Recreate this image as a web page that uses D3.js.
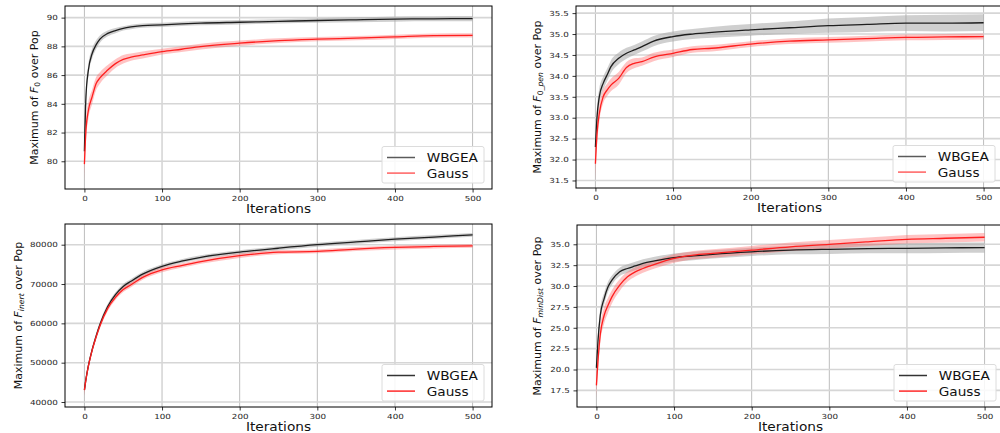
<!DOCTYPE html>
<html>
<head>
<meta charset="utf-8">
<script src="https://cdn.jsdelivr.net/npm/d3@7"></script>
<style>
  body { margin: 0; background: #fff; }
  svg { display: block; font-family: "DejaVu Sans", sans-serif; }
</style>
</head>
<body>
<div id="chart"></div>
<script>
"use strict";

// shared x values (iterations) and labels
const iterations = [0, 2, 5, 10, 15, 20, 30, 40, 50, 60, 75, 100, 125, 150, 200, 250, 300, 350, 400, 450, 500];
const xTicks = [0, 100, 200, 300, 400, 500];
const seriesNames = ["WBGEA", "Gauss"];

// F_0
const f0Wbgea       = [80.7, 84.5, 86.3, 87.5, 88.1, 88.5, 88.9, 89.1, 89.25, 89.35, 89.45, 89.5, 89.57, 89.62, 89.68, 89.74, 89.8, 89.85, 89.9, 89.92, 89.93];
const f0WbgeaSpread = [0.6, 0.5, 0.4, 0.35, 0.3, 0.25, 0.2, 0.18, 0.15, 0.15, 0.15, 0.15, 0.15, 0.15, 0.15, 0.15, 0.16, 0.17, 0.18, 0.18, 0.18];
const f0Gauss       = [79.8, 82.2, 83.5, 84.5, 85.4, 85.8, 86.35, 86.8, 87.1, 87.25, 87.4, 87.63, 87.8, 87.98, 88.22, 88.4, 88.5, 88.57, 88.66, 88.75, 88.77];
const f0GaussSpread = [1.2, 0.8, 0.6, 0.5, 0.45, 0.4, 0.35, 0.3, 0.3, 0.25, 0.25, 0.2, 0.2, 0.2, 0.18, 0.16, 0.15, 0.15, 0.15, 0.15, 0.15];
const f0Ticks = [80, 82, 84, 86, 88, 90];

// F_0_pen
const penWbgea       = [32.3, 33.0, 33.5, 33.82, 34.02, 34.22, 34.42, 34.54, 34.62, 34.7, 34.83, 34.94, 35.0, 35.04, 35.1, 35.15, 35.2, 35.23, 35.26, 35.26, 35.27];
const penWbgeaSpread = [0.3, 0.25, 0.2, 0.16, 0.15, 0.15, 0.14, 0.13, 0.12, 0.12, 0.12, 0.12, 0.12, 0.13, 0.14, 0.15, 0.17, 0.18, 0.19, 0.2, 0.2];
const penGauss       = [31.9, 32.6, 33.1, 33.5, 33.66, 33.78, 33.94, 34.2, 34.3, 34.34, 34.45, 34.54, 34.63, 34.66, 34.76, 34.83, 34.86, 34.89, 34.92, 34.93, 34.94];
const penGaussSpread = [0.4, 0.3, 0.2, 0.16, 0.15, 0.15, 0.15, 0.13, 0.12, 0.1, 0.1, 0.09, 0.08, 0.08, 0.07, 0.07, 0.07, 0.07, 0.07, 0.07, 0.07];
const penTicks = [31.5, 32.0, 32.5, 33.0, 33.5, 34.0, 34.5, 35.0, 35.5];

// F_inert
const inertWbgea       = [43100, 45800, 49100, 53300, 56700, 59700, 64300, 67300, 69400, 70700, 72500, 74500, 75800, 76800, 78100, 79100, 80000, 80700, 81400, 81950, 82500];
const inertWbgeaSpread = [1500, 1000, 800, 700, 700, 700, 650, 600, 600, 600, 550, 500, 500, 500, 500, 500, 500, 500, 500, 500, 500];
const inertGauss       = [43000, 45700, 49000, 53200, 56500, 59400, 63800, 66600, 68600, 69800, 71700, 73600, 74700, 75700, 77200, 78100, 78300, 78900, 79300, 79550, 79700];
const inertGaussSpread = [1500, 1000, 800, 700, 700, 700, 700, 650, 650, 600, 600, 600, 550, 550, 550, 500, 500, 500, 500, 500, 500];
const inertTicks = [40000, 50000, 60000, 70000, 80000];

// F_minDist
const minWbgea       = [20.2, 23.4, 26.5, 28.5, 29.9, 30.7, 31.7, 32.1, 32.4, 32.7, 33.0, 33.4, 33.6, 33.8, 34.1, 34.3, 34.4, 34.47, 34.52, 34.57, 34.6];
const minWbgeaSpread = [1.0, 0.9, 0.8, 0.7, 0.6, 0.55, 0.5, 0.5, 0.5, 0.5, 0.5, 0.5, 0.5, 0.5, 0.5, 0.5, 0.55, 0.55, 0.6, 0.6, 0.6];
const minGauss       = [18.1, 21.0, 24.2, 26.5, 27.7, 28.7, 30.1, 31.1, 31.7, 32.1, 32.6, 33.3, 33.7, 33.9, 34.3, 34.7, 35.0, 35.3, 35.6, 35.72, 35.84];
const minGaussSpread = [1.5, 1.2, 1.0, 1.0, 0.9, 0.8, 0.7, 0.6, 0.55, 0.5, 0.5, 0.5, 0.5, 0.5, 0.5, 0.5, 0.5, 0.5, 0.5, 0.5, 0.5];
const minTicks = [17.5, 20.0, 22.5, 25.0, 27.5, 30.0, 32.5, 35.0];

const panels = [
    {
        box: {left: 65, top: 6, right: 492, bottom: 189},
        yDomain: [78.07, 90.81], yTicks: f0Ticks, fmt: d3.format("d"),
        sub: [{t: "0", it: false}], labelX: 34, xLabelY: 213,
        means: [f0Wbgea, f0Gauss], spreads: [f0WbgeaSpread, f0GaussSpread], legendDark: false
    },
    {
        box: {left: 576, top: 6, right: 1003, bottom: 188},
        yDomain: [31.32, 35.67], yTicks: penTicks, fmt: d3.format(".1f"),
        sub: [{t: "0", it: false}, {t: "_pen", it: true}], labelX: 537, xLabelY: 212,
        means: [penWbgea, penGauss], spreads: [penWbgeaSpread, penGaussSpread], legendDark: false
    },
    {
        box: {left: 65, top: 224, right: 492, bottom: 407},
        yDomain: [38729, 85264], yTicks: inertTicks, fmt: d3.format("d"),
        sub: [{t: "inert", it: true}], labelX: 18, xLabelY: 431,
        means: [inertWbgea, inertGauss], spreads: [inertWbgeaSpread, inertGaussSpread], legendDark: true
    },
    {
        box: {left: 577, top: 225, right: 1004, bottom: 407},
        yDomain: [15.51, 37.31], yTicks: minTicks, fmt: d3.format(".1f"),
        sub: [{t: "minDist", it: true}], labelX: 537, xLabelY: 431,
        means: [minWbgea, minGauss], spreads: [minWbgeaSpread, minGaussSpread], legendDark: true
    }
];

const lineColors = ["#1e1e1e", "#ff1f1f"];
const bandColors = ["#a8a8a8", "#ff6a6a"];
const bandOpacity = [0.55, 0.4];

const svg = d3.select("#chart").append("svg")
              .attr("width", 1000)
              .attr("height", 433);

const defs = svg.append("defs");

panels.forEach((p, pi) => {
    const b = p.box;
    const w = b.right - b.left;
    const h = b.bottom - b.top;
    const xScale = d3.scaleLinear().domain([-25, 525]).range([0, w]);
    const yScale = d3.scaleLinear().domain(p.yDomain).range([h, 0]);

    defs.append("clipPath").attr("id", `clip${pi}`)
        .append("rect").attr("width", w).attr("height", h);

    const g = svg.append("g").attr("transform", `translate(${b.left},${b.top})`);

    // grid
    g.append("g").selectAll("line").data(xTicks).enter().append("line")
     .attr("x1", d => xScale(d)).attr("x2", d => xScale(d))
     .attr("y1", 0).attr("y2", h)
     .attr("stroke", "#bdbdbd").attr("stroke-width", 1);
    g.append("g").selectAll("line").data(p.yTicks).enter().append("line")
     .attr("x1", 0).attr("x2", w)
     .attr("y1", d => yScale(d)).attr("y2", d => yScale(d))
     .attr("stroke", "#d6d6d6").attr("stroke-width", 1.6);

    // bands and lines
    const plot = g.append("g").attr("clip-path", `url(#clip${pi})`);
    p.means.forEach((m, si) => {
        const rows = iterations.map((it, k) => ({x: it, y: m[k], s: p.spreads[si][k]}));
        const area = d3.area()
                       .x(d => xScale(d.x))
                       .y0(d => yScale(d.y - d.s))
                       .y1(d => yScale(d.y + d.s))
                       .curve(d3.curveMonotoneX);
        plot.append("path").datum(rows)
            .attr("d", area)
            .attr("fill", bandColors[si])
            .attr("fill-opacity", bandOpacity[si]);
    });
    p.means.forEach((m, si) => {
        const rows = iterations.map((it, k) => ({x: it, y: m[k]}));
        const line = d3.line()
                       .x(d => xScale(d.x))
                       .y(d => yScale(d.y))
                       .curve(d3.curveMonotoneX);
        plot.append("path").datum(rows)
            .attr("d", line)
            .attr("fill", "none")
            .attr("stroke", lineColors[si])
            .attr("stroke-width", 1.3);
    });

    // axes
    const yAxis = g.append("g")
                   .call(d3.axisLeft(yScale).tickValues(p.yTicks).tickFormat(p.fmt)
                           .tickSize(3.5).tickPadding(2.3).tickSizeOuter(0));
    const xAxis = g.append("g").attr("transform", `translate(0,${h})`)
                   .call(d3.axisBottom(xScale).tickValues(xTicks)
                           .tickSize(3.5).tickPadding(4).tickSizeOuter(0));
    [yAxis, xAxis].forEach(ax => {
        ax.select(".domain").remove();
        ax.selectAll("line").attr("stroke", "#000").attr("stroke-width", 0.8);
        ax.selectAll("text")
          .attr("font-family", "DejaVu Sans")
          .attr("font-size", 7)
          .attr("fill", "#262626");
    });
    yAxis.selectAll("text").attr("transform", "scale(1.25,1)");
    xAxis.selectAll("text").attr("transform", "scale(1.25,1)");

    // frame
    g.append("rect").attr("width", w).attr("height", h)
     .attr("fill", "none").attr("stroke", "#000").attr("stroke-width", 1);

    // axis labels
    svg.append("text")
       .attr("transform", `translate(${(b.left + b.right) / 2},${p.xLabelY}) scale(1.2,1)`)
       .attr("text-anchor", "middle")
       .attr("font-size", 11.4)
       .attr("fill", "#111")
       .text("Iterations");

    const yl = svg.append("text")
                  .attr("transform", `translate(${p.labelX},${(b.top + b.bottom) / 2}) rotate(-90)`)
                  .attr("text-anchor", "middle")
                  .attr("dy", "0.35em")
                  .attr("font-size", 11)
                  .attr("fill", "#111");
    yl.append("tspan").text("Maximum of ");
    yl.append("tspan").attr("font-style", "italic").text("F");
    p.sub.forEach((s, k) => {
        yl.append("tspan")
          .attr("font-size", 7.7)
          .attr("font-style", s.it ? "italic" : "normal")
          .attr("dy", k === 0 ? 2.5 : 0)
          .text(s.t);
    });
    yl.append("tspan").attr("dy", -2.5).text(" over Pop");

    // legend
    const lg = g.append("g").attr("transform", `translate(${w - 110},${h - 42.5})`);
    lg.append("rect").attr("width", 102).attr("height", 36.5).attr("rx", 2)
      .attr("fill", "#fff").attr("fill-opacity", 0.85)
      .attr("stroke", "#dcdcdc").attr("stroke-width", 1);
    const legendLine = p.legendDark ? ["#333", "#ff2a2a"] : ["#5a5a5a", "#ff6060"];
    seriesNames.forEach((name, si) => {
        const yy = 11 + si * 15.6;
        lg.append("line").attr("x1", 5).attr("x2", 33).attr("y1", yy).attr("y2", yy)
          .attr("stroke", legendLine[si]).attr("stroke-width", 1.5);
        lg.append("text")
          .attr("transform", `translate(44.7,${yy + 4.6}) scale(1.14,1)`)
          .attr("font-size", 12)
          .attr("fill", "#111")
          .text(name);
    });
});
</script>
</body>
</html>
